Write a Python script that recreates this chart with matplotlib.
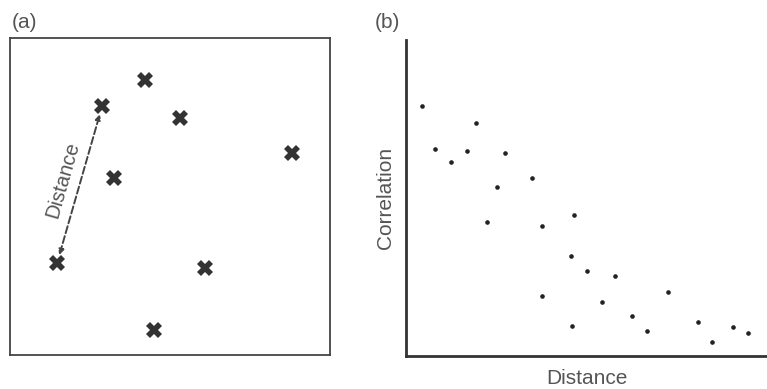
import matplotlib.pyplot as plt

plt.rcParams['font.family'] = ['Liberation Sans', 'DejaVu Sans']

# panel (a): site locations
site_x = [42.2, 28.8, 53.1, 88.1, 32.5, 14.7, 60.9, 45.0]
site_y = [86.8, 78.5, 74.8, 63.7, 55.8, 29.0, 27.4, 7.9]

# panel (b): correlation vs distance
dist = [4.3, 8.0, 12.6, 16.8, 19.3, 22.3, 25.1, 27.5, 34.8, 37.6, 37.8, 45.8,
        46.5, 46.0, 50.2, 54.4, 57.8, 62.6, 66.7, 72.7, 80.9, 84.9, 90.6, 94.7]
corr = [79.2, 65.5, 61.4, 65.0, 73.8, 42.5, 53.5, 64.3, 56.2, 41.1, 19.0, 31.6,
        44.5, 9.5, 26.9, 17.2, 25.3, 12.7, 7.8, 20.3, 10.9, 4.5, 9.3, 7.2]

txt = '#555555'
fig = plt.figure(figsize=(7.67, 3.89), dpi=100)

ax1 = fig.add_axes([10 / 767, 34 / 389, 320 / 767, 317 / 389])
ax1.plot(site_x, site_y, 'X', color='#333333', markersize=12, markeredgewidth=0)
ax1.annotate('', xy=(site_x[1], site_y[1]), xytext=(site_x[5], site_y[5]),
             arrowprops=dict(arrowstyle='<|-|>', linestyle='--', color='#444444',
                             lw=1.4, shrinkA=6, shrinkB=6, mutation_scale=8))
ax1.text(16.6, 55.2, 'Distance', rotation=74, ha='center', va='center',
         fontsize=14.5, color=txt, rotation_mode='anchor')
ax1.set_xlim(0, 100)
ax1.set_ylim(0, 100)
ax1.set_xticks([])
ax1.set_yticks([])
for s in ax1.spines.values():
    s.set_color('#444444')
    s.set_linewidth(1.3)
fig.text(12 / 767, 1 - 22 / 389, '(a)', fontsize=15, color=txt, va='center')

ax2 = fig.add_axes([406 / 767, 33 / 389, 361 / 767, 316 / 389])
ax2.plot(dist, corr, 'o', color='#222222', markersize=2.3)
ax2.set_xlim(0, 100)
ax2.set_ylim(0, 100)
ax2.set_xticks([])
ax2.set_yticks([])
ax2.spines['top'].set_visible(False)
ax2.spines['right'].set_visible(False)
for s in ('left', 'bottom'):
    ax2.spines[s].set_color('#333333')
    ax2.spines[s].set_linewidth(2)
ax2.set_xlabel('Distance', fontsize=15, color=txt, labelpad=9)
ax2.set_ylabel('Correlation', fontsize=15, color=txt, labelpad=8)
fig.text(375 / 767, 1 - 22 / 389, '(b)', fontsize=15, color=txt, va='center')

fig.savefig('out.png', dpi=100)
